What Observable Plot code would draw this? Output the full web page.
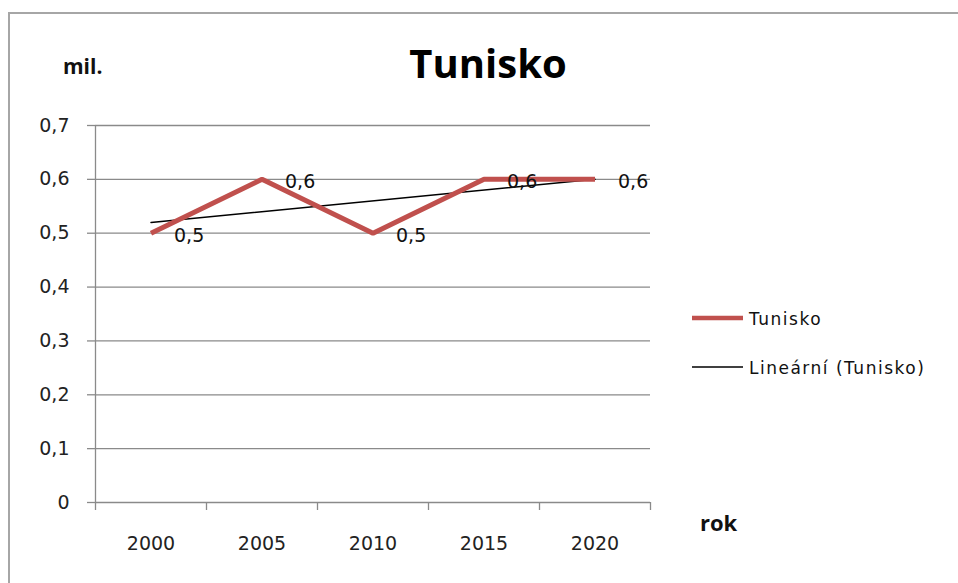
<!DOCTYPE html>
<html>
<head>
<meta charset="utf-8">
<script src="https://cdn.jsdelivr.net/npm/d3@7"></script>
<script src="https://cdn.jsdelivr.net/npm/@observablehq/plot@0.6"></script>
<style>
  html, body { margin: 0; padding: 0; background: #fff; }
  #wrap { position: relative; width: 958px; height: 583px; overflow: hidden; }
  #frame { position: absolute; left: 8px; top: 12px; width: 1000px; height: 700px; border: 2px solid #a6a6a6; box-sizing: border-box; }
  #wrap svg { position: absolute; left: 0; top: 0; }
</style>
</head>
<body>
<div id="wrap"><div id="frame"></div></div>
<script>
const years = [2000, 2005, 2010, 2015, 2020];
const values = [0.5, 0.6, 0.5, 0.6, 0.6];
const yTicks = [0, 0.1, 0.2, 0.3, 0.4, 0.5, 0.6, 0.7];
const seriesName = "Tunisko";
const trendName = "Lineární (Tunisko)";
const title = "Tunisko";
const yUnit = "mil.";
const xLabel = "rok";

const data = years.map((year, i) => ({year, value: values[i]}));
const half = (years[1] - years[0]) / 2;
const boundaries = [...years.map(y => y - half), years[years.length - 1] + half];
const fmt = d => d3.format(".1~f")(d).replace(".", ",");

const FONT = "DejaVu Sans, sans-serif";
const RED = "#C0504D";
const GRID = "#8a8a8a";

const chart = Plot.plot({
  width: 958,
  height: 583,
  marginLeft: 95,
  marginRight: 308,
  marginTop: 125,
  marginBottom: 81,
  style: {fontFamily: FONT, background: "transparent", overflow: "visible"},
  x: {type: "linear", domain: [boundaries[0], boundaries[boundaries.length - 1]]},
  y: {domain: [0, 0.7]},
  marks: [
    Plot.gridY(yTicks, {stroke: GRID, strokeOpacity: 1, strokeWidth: 1.3}),
    Plot.axisY(yTicks, {tickSize: 8, tickPadding: 18, tickFormat: fmt, stroke: GRID, strokeWidth: 1.3,
      fontSize: 19, fill: "#222", label: null, style: "letter-spacing:1px"}),
    Plot.ruleX([boundaries[0]], {stroke: GRID, strokeWidth: 1.3}),
    Plot.axisX(boundaries, {tickSize: 8, stroke: GRID, strokeWidth: 1.3, text: null, label: null}),
    Plot.axisX(years, {tickSize: 0, tickPadding: 34, tickFormat: d => String(d), fontSize: 19,
      fill: "#222", label: null, style: "letter-spacing:1px"}),
    Plot.linearRegressionY(data, {x: "year", y: "value", stroke: "#000", strokeWidth: 1.5, ci: 0}),
    Plot.line(data, {x: "year", y: "value", stroke: RED, strokeWidth: 5, strokeLinejoin: "miter", strokeLinecap: "butt"}),
    Plot.text(data, {x: "year", y: "value", text: d => fmt(d.value), textAnchor: "start", dx: 23, dy: 3,
      fontSize: 19, fill: "#111", style: "letter-spacing:1px"})
  ]
});
document.getElementById("wrap").appendChild(chart);

// Overlay: title, axis titles, legend
const ns = "http://www.w3.org/2000/svg";
const ov = d3.select("#wrap").append("svg")
  .attr("xmlns", ns).attr("width", 958).attr("height", 583);

ov.append("text").attr("x", 488).attr("y", 78).attr("text-anchor", "middle")
  .attr("font-family", "Open Sans, sans-serif").attr("font-weight", 700).attr("font-size", 40)
  .attr("fill", "#000").text(title);
ov.append("text").attr("x", 63).attr("y", 74)
  .attr("font-family", "Open Sans, sans-serif").attr("font-weight", 700).attr("font-size", 21)
  .attr("fill", "#111").text(yUnit);
ov.append("text").attr("x", 700).attr("y", 531)
  .attr("font-family", "Open Sans, sans-serif").attr("font-weight", 700).attr("font-size", 22)
  .attr("fill", "#111").text(xLabel);

const legend = [
  {name: seriesName, color: RED, width: 4.5, y: 318},
  {name: trendName, color: "#000", width: 1.5, y: 367}
];
legend.forEach(l => {
  ov.append("line").attr("x1", 692).attr("x2", 743).attr("y1", l.y).attr("y2", l.y)
    .attr("stroke", l.color).attr("stroke-width", l.width);
  ov.append("text").attr("x", 749).attr("y", l.y + 7)
    .attr("font-family", FONT).attr("font-size", 17).attr("letter-spacing", "1.5px")
    .attr("fill", "#111").text(l.name);
});
</script>
</body>
</html>
